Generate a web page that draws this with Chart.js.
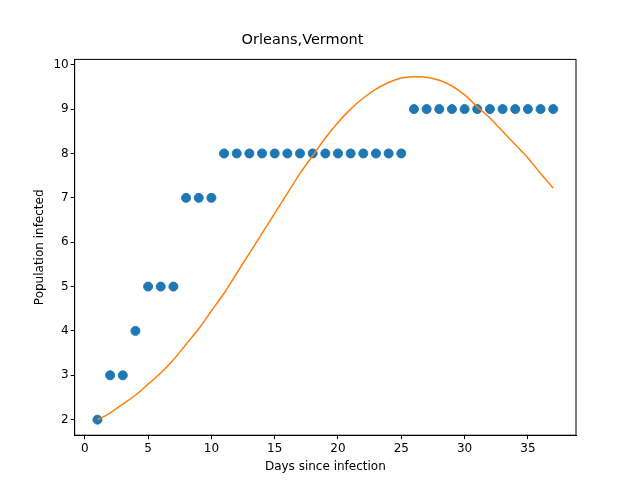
<!DOCTYPE html>
<html>
<head>
<script src="https://cdn.jsdelivr.net/npm/chart.js@4"></script>
<style>
  body { margin: 0; background: #fff; }
  #wrap { width: 640px; height: 480px; }
</style>
</head>
<body>
<div id="wrap"><canvas id="c" width="640" height="480"></canvas></div>
<script>
// days since infection
const days = [1,2,3,4,5,6,7,8,9,10,11,12,13,14,15,16,17,18,19,20,21,22,23,24,25,26,27,28,29,30,31,32,33,34,35,36,37];
// observed infected
const infected = [2,3,3,4,5,5,5,7,7,7,8,8,8,8,8,8,8,8,8,8,8,8,8,8,8,9,9,9,9,9,9,9,9,9,9,9,9];
// fitted curve
const fitted = [2.0,2.15,2.35,2.55,2.8,3.05,3.35,3.7,4.05,4.45,4.85,5.3,5.75,6.2,6.65,7.1,7.55,7.95,8.35,8.7,9.0,9.25,9.45,9.6,9.7,9.73,9.72,9.65,9.52,9.32,9.05,8.8,8.5,8.2,7.9,7.55,7.22];
const xTicks = [0,5,10,15,20,25,30,35];
const yTicks = [2,3,4,5,6,7,8,9,10];

const font = { family: "DejaVu Sans", size: 12 };
Chart.defaults.font = font;
Chart.defaults.color = "#000";

const axisGrid = { display: true, drawOnChartArea: false, drawTicks: true, tickLength: 4, color: "#000" };

new Chart(document.getElementById("c"), {
  type: "scatter",
  data: {
    datasets: [
      {
        data: days.map((d, i) => ({ x: d, y: infected[i] })),
        backgroundColor: "#1f77b4",
        borderColor: "#1f77b4",
        pointRadius: 4.5,
        order: 2
      },
      {
        type: "line",
        data: days.map((d, i) => ({ x: d, y: fitted[i] })),
        borderColor: "#ff7f0e",
        borderWidth: 1.5,
        pointRadius: 0,
        tension: 0.3,
        order: 1
      }
    ]
  },
  options: {
    responsive: false,
    animation: false,
    layout: { padding: { left: 29, right: 64, top: 12, bottom: 0 } },
    plugins: {
      legend: { display: false },
      tooltip: { enabled: false },
      title: { display: true, text: "Orleans,Vermont", font: { family: "DejaVu Sans", size: 14.5, weight: "normal" }, padding: { top: 20, bottom: 10 } }
    },
    scales: {
      x: {
        type: "linear",
        min: -0.8, max: 38.8,
        afterBuildTicks: ax => { ax.ticks = xTicks.map(v => ({ value: v })); },
        grid: axisGrid,
        border: { color: "#000" },
        ticks: { padding: 2 },
        title: { display: true, text: "Days since infection", font, padding: { top: 2, bottom: 6 } }
      },
      y: {
        min: 1.65, max: 10.12,
        afterBuildTicks: ax => { ax.ticks = yTicks.map(v => ({ value: v })); },
        grid: axisGrid,
        border: { color: "#000" },
        ticks: { padding: 2 },
        title: { display: true, text: "Population infected", font }
      }
    }
  },
  plugins: [{
    id: "frame",
    afterDraw(chart) {
      const { ctx, chartArea: a } = chart;
      ctx.save();
      ctx.strokeStyle = "#000";
      ctx.lineWidth = 1;
      ctx.strokeRect(a.left, a.top, a.right - a.left, a.bottom - a.top);
      ctx.restore();
    }
  }]
});
</script>
</body>
</html>
